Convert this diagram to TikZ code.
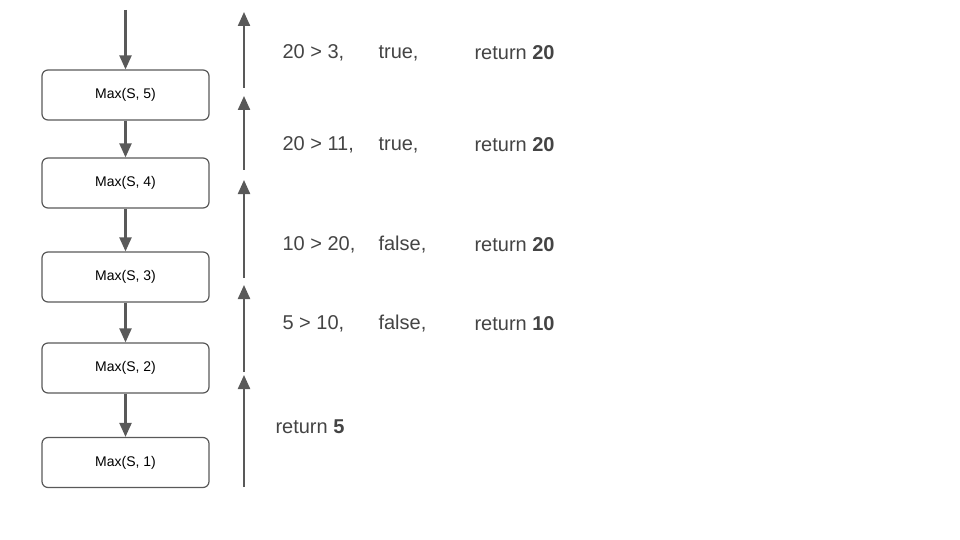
\documentclass[tikz,border=0pt]{standalone}
\usepackage{fontspec}
\setmainfont{Liberation Sans}
\usetikzlibrary{arrows.meta}
\definecolor{ink}{HTML}{595959}
\definecolor{txt}{HTML}{444444}
\begin{document}
\begin{tikzpicture}[x=1pt,y=-1pt,
  box/.style={draw=ink,line width=1.2pt,rounded corners=6pt,minimum width=167pt,minimum height=50pt,font=\fontsize{14}{16}\selectfont,text=black},
  arr/.style={draw=ink,line width=2.2pt,-{Triangle[length=14pt,width=12pt]}},
  lbl/.style={anchor=west,text=txt,font=\fontsize{20}{24}\selectfont}]
\useasboundingbox (0,0) rectangle (960,540);
\node[box] (b5) at (125.5,95) {Max(S, 5)};
\node[box] (b4) at (125.5,183) {Max(S, 4)};
\node[box] (b3) at (125.5,277) {Max(S, 3)};
\node[box] (b2) at (125.5,368) {Max(S, 2)};
\node[box] (b1) at (125.5,462.5) {Max(S, 1)};
\coordinate (top) at (125.5,10);
\draw[arr] (top) -- (b5.north);
\draw[arr] (b5) -- (b4);
\draw[arr] (b4) -- (b3);
\draw[arr] (b3) -- (b2);
\draw[arr] (b2) -- (b1);
\coordinate (u0) at (244,487);
\coordinate (u1t) at (244,375);
\coordinate (u1) at (244,372);
\coordinate (u2t) at (244,285);
\coordinate (u2) at (244,278);
\coordinate (u3t) at (244,180);
\coordinate (u3) at (244,170);
\coordinate (u4t) at (244,96);
\coordinate (u4) at (244,88);
\coordinate (u5t) at (244,12);
\draw[arr] (u0) -- (u1t);
\draw[arr] (u1) -- (u2t);
\draw[arr] (u2) -- (u3t);
\draw[arr] (u3) -- (u4t);
\draw[arr] (u4) -- (u5t);
\node[lbl] (l1) at (279,53) {20 > 3,};
\node[lbl] (l1b) at (375,53) {true,};
\node[lbl] (l1c) at (471,53) {return \textbf{20}};
\node[lbl] (l2) at (279,145) {20 > 11,};
\node[lbl] (l2b) at (375,145) {true,};
\node[lbl] (l2c) at (471,145) {return \textbf{20}};
\node[lbl] (l3) at (279,245) {10 > 20,};
\node[lbl] (l3b) at (375,245) {false,};
\node[lbl] (l3c) at (471,245) {return \textbf{20}};
\node[lbl] (l4) at (279,324) {5 > 10,};
\node[lbl] (l4b) at (375,324) {false,};
\node[lbl] (l4c) at (471,324) {return \textbf{10}};
\node[lbl] (l5) at (272,427) {return \textbf{5}};
\end{tikzpicture}
\end{document}
